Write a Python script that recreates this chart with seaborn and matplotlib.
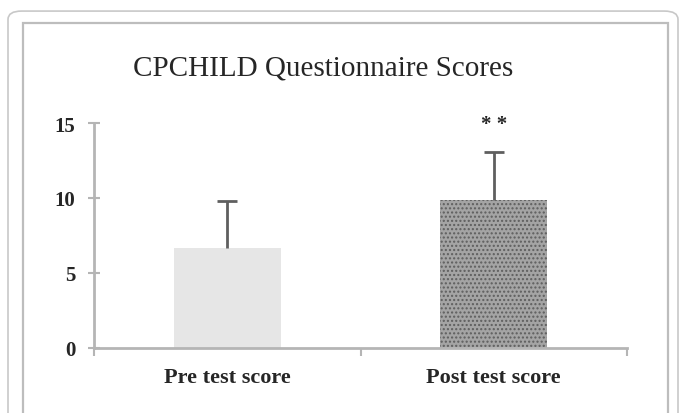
import matplotlib
matplotlib.use("Agg")
import matplotlib.pyplot as plt
from matplotlib.patches import FancyBboxPatch, Rectangle
import seaborn as sns
import pandas as pd

categories = ["Pre test score", "Post test score"]
means = [6.7, 9.9]
sds = [3.1, 3.2]
bar_colors = ["#e6e6e6", "#a4a4a4"]
yticks = [0, 5, 10, 15]
title = "CPCHILD Questionnaire Scores"
signif = "* *"

sns.set_style("white")
plt.rcParams["font.family"] = ["Liberation Serif", "DejaVu Serif"]
plt.rcParams["hatch.linewidth"] = 1.0

df = pd.DataFrame({"group": categories, "score": means})

fig = plt.figure(figsize=(6.8, 4.14), dpi=100)
W, H = 680, 414

# outer rounded frame and inner chart border
fig.patches.append(FancyBboxPatch((8 / W, -0.05), 670 / W, (414 - 10) / H + 0.05 - 0.005,
                                  boxstyle="round,pad=0,rounding_size=0.02",
                                  transform=fig.transFigure, fill=False,
                                  edgecolor="#c8c8c8", linewidth=1.2))
fig.patches.append(Rectangle((23 / W, -0.05), 645 / W, (414 - 24) / H + 0.05,
                             transform=fig.transFigure, fill=False,
                             edgecolor="#bdbdbd", linewidth=1.6))

ax = fig.add_axes([94 / W, 1 - 349 / H, (627 - 94) / W, (349 - 124) / H])
sns.barplot(data=df, x="group", y="score", hue="group", palette=bar_colors,
            width=0.4, legend=False, errorbar=None, ax=ax, linewidth=0)

# texture-ish hatching on bars
for patch, hatch, hc in zip(ax.patches, ["", "...."], ["#ffffff", "#5e5e5e"]):
    patch.set_hatch(hatch)
    patch.set_edgecolor(hc)
    patch.set_linewidth(0)

# upper-only SD error bars
xs = range(len(categories))
tops = [m + s for m, s in zip(means, sds)]
ax.vlines(xs, means, tops, colors="#5f5f5f", linewidth=2)
ax.hlines(tops, [x - 0.037 for x in xs], [x + 0.037 for x in xs], colors="#5f5f5f", linewidth=2)
ax.text(1, 14.9, signif, ha="center", va="center", fontsize=15, fontweight="bold", clip_on=False)

ax.set_ylim(0, 15)
ax.set_xlim(-0.5, 1.5)
ax.set_yticks(yticks)
ax.set_yticklabels([str(t) for t in yticks], fontsize=15, fontweight="bold")
ax.set_xticks(list(xs))
ax.set_xticklabels(categories, fontsize=16, fontweight="bold")
ax.set_xticks([-0.5, 0.5, 1.5], minor=True)
ax.tick_params(axis="x", which="major", length=0, pad=14, bottom=True)
ax.tick_params(axis="x", which="minor", length=6, width=1.5, color="#b5b5b5",
               direction="out", bottom=True)
ax.tick_params(axis="y", length=9, width=1.5, color="#b5b5b5", direction="inout",
               pad=9, left=True)
ax.set_xlabel("")
ax.set_ylabel("")
for side in ["top", "right"]:
    ax.spines[side].set_visible(False)
for side in ["left", "bottom"]:
    ax.spines[side].set_color("#b5b5b5")
    ax.spines[side].set_linewidth(2)

fig.text(323 / W, 1 - 68 / H, title, ha="center", va="center", fontsize=21)

fig.savefig("out.png", dpi=100)
